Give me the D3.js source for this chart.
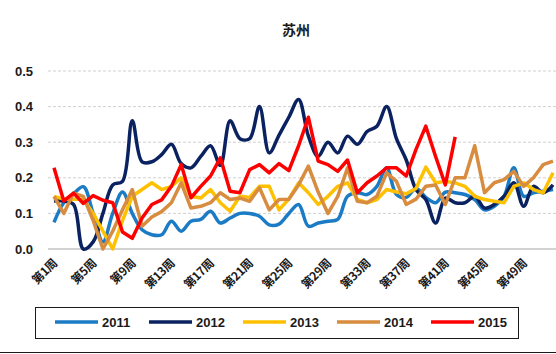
<!DOCTYPE html>
<html>
<head>
<meta charset="utf-8">
<script src="https://cdn.jsdelivr.net/npm/d3@7"></script>
<style>
    body { margin: 0; background: #fff; }
    svg { display: block; font-family: "Liberation Sans", Arial, "Noto Sans CJK SC", sans-serif; }
    .grid line { stroke: #d0d0d0; stroke-dasharray: 3,2; }
    .tick-label { font-size: 13px; font-weight: bold; fill: #1a1a1a; }
    .week-label { font-size: 12px; font-weight: bold; fill: #1a1a1a; font-family: "Noto Sans CJK SC", "Liberation Sans", sans-serif; letter-spacing: -0.5px; }
    .legend-text { font-size: 13px; font-weight: bold; fill: #1a1a1a; }
</style>
</head>
<body>
<svg id="chart" width="556" height="354"></svg>
<script>
// weeks 1..52
const weeks = d3.range(1, 53);
const yTicks = [0, 0.1, 0.2, 0.3, 0.4, 0.5];
const seriesNames = ["2011", "2012", "2013", "2014", "2015"];
const seriesColors = ["#1b7bc4", "#0b2261", "#ffc000", "#d88c3f", "#ff0000"];

const v2011 = [0.075, 0.13, 0.155, 0.175, 0.1, 0.02, 0.1, 0.16, 0.1, 0.054,
    0.04, 0.04, 0.078, 0.05, 0.078, 0.083, 0.106, 0.073, 0.087, 0.1,
    0.1, 0.092, 0.068, 0.07, 0.1, 0.125, 0.064, 0.073, 0.078, 0.083,
    0.148, 0.158, 0.153, 0.176, 0.228, 0.153, 0.145, 0.17, 0.145, 0.13,
    0.16, 0.158, 0.153, 0.139, 0.11, 0.12, 0.148, 0.228, 0.148, 0.158,
    0.162, 0.167];
const v2012 = [0.135, 0.135, 0.125, 0.0, 0.02, 0.1, 0.18, 0.19, 0.36, 0.245,
    0.245, 0.265, 0.294, 0.24, 0.228, 0.26, 0.29, 0.235, 0.36, 0.31,
    0.31, 0.40, 0.27, 0.32, 0.37, 0.42, 0.317, 0.26, 0.30, 0.27,
    0.317, 0.294, 0.33, 0.345, 0.40, 0.31, 0.25, 0.167, 0.139, 0.073,
    0.143, 0.13, 0.13, 0.148, 0.115, 0.125, 0.148, 0.186, 0.12, 0.176,
    0.158, 0.18];
const v2013 = [0.148, 0.14, 0.14, 0.14, 0.1, 0.05, 0.0, 0.08, 0.148, 0.167,
    0.186, 0.167, 0.176, 0.2, 0.148, 0.143, 0.167, 0.13, 0.106, 0.148,
    0.145, 0.176, 0.176, 0.11, 0.14, 0.186, 0.158, 0.125, 0.148, 0.176,
    0.186, 0.139, 0.13, 0.139, 0.167, 0.16, 0.155, 0.17, 0.23, 0.186,
    0.19, 0.186, 0.176, 0.148, 0.139, 0.134, 0.13, 0.176, 0.186, 0.167,
    0.158, 0.214];
const v2014 = [0.148, 0.1, 0.157, 0.148, 0.08, 0.0, 0.05, 0.11, 0.167, 0.064,
    0.09, 0.105, 0.13, 0.186, 0.115, 0.12, 0.13, 0.158, 0.139, 0.143,
    0.134, 0.172, 0.11, 0.139, 0.14, 0.18, 0.233, 0.16, 0.1, 0.148,
    0.228, 0.134, 0.13, 0.148, 0.214, 0.19, 0.125, 0.14, 0.176, 0.18,
    0.125, 0.2, 0.2, 0.29, 0.158, 0.186, 0.195, 0.218, 0.176, 0.2,
    0.237, 0.247];
const v2015 = [0.228, 0.135, 0.157, 0.128, 0.15, 0.137, 0.13, 0.048, 0.03, 0.087,
    0.125, 0.138, 0.176, 0.237, 0.144, 0.176, 0.205, 0.256, 0.162, 0.158,
    0.223, 0.237, 0.214, 0.24, 0.22, 0.29, 0.37, 0.247, 0.237, 0.218,
    0.25, 0.158, 0.186, 0.205, 0.228, 0.228, 0.205, 0.28, 0.345, 0.26,
    0.18, 0.315];

class WeeklyChart {
    constructor() {
        this.svg = d3.select("#chart");
        this.series = [v2011, v2012, v2013, v2014, v2015].map((vals, i) => ({
            name: seriesNames[i],
            color: seriesColors[i],
            smooth: i < 2,
            values: vals.map((v, j) => ({ week: weeks[j], value: v }))
        }));

        //scales:
        this.scaleX = d3.scalePoint()
            .domain(weeks)
            .range([54, 553]);
        this.scaleY = d3.scaleLinear()
            .domain([0, 0.5])
            .range([249, 71]);

        this.drawTitle();
        this.drawAxis();
        this.drawPlot();
        this.drawLegend();
    }

    drawTitle() {
        this.svg.append("text")
            .attr("x", 296)
            .attr("y", 35)
            .attr("text-anchor", "middle")
            .style("font-family", "'Noto Sans CJK SC', sans-serif")
            .style("font-size", "14px")
            .style("font-weight", "bold")
            .style("fill", "#1a1a1a")
            .text("苏州");
    }

    drawAxis() {
        let grid = this.svg.append("g").attr("class", "grid");
        grid.selectAll("line").data(yTicks.filter(d => d > 0))
            .join("line")
            .attr("x1", 48)
            .attr("x2", 556)
            .attr("y1", d => this.scaleY(d))
            .attr("y2", d => this.scaleY(d));

        // baseline
        this.svg.append("line")
            .attr("x1", 48).attr("x2", 556)
            .attr("y1", this.scaleY(0)).attr("y2", this.scaleY(0))
            .style("stroke", "#a6a6a6")
            .style("stroke-width", 1);

        this.svg.append("g").selectAll("text").data(yTicks)
            .join("text")
            .attr("class", "tick-label")
            .attr("x", 33)
            .attr("y", d => this.scaleY(d) + 4.5)
            .attr("text-anchor", "end")
            .text(d => d3.format(".1f")(d));

        let labelWeeks = weeks.filter(w => (w - 1) % 4 === 0);
        this.svg.append("g").selectAll("text").data(labelWeeks)
            .join("text")
            .attr("class", "week-label")
            .attr("text-anchor", "end")
            .attr("transform", d => `translate(${this.scaleX(d) + 4},${264}) rotate(-45)`)
            .text(d => `第${d}周`);
    }

    drawPlot() {
        let parent = this;
        let plot = this.svg.append("g").attr("class", "plot");
        plot.selectAll("path").data(this.series)
            .join("path")
            .attr("fill", "none")
            .attr("stroke", d => d.color)
            .attr("stroke-width", 3.5)
            .attr("stroke-linejoin", "round")
            .attr("d", d => d3.line()
                .x(p => parent.scaleX(p.week))
                .y(p => parent.scaleY(p.value))
                .curve(d.smooth ? d3.curveCatmullRom.alpha(0.5) : d3.curveLinear)(d.values));
    }

    drawLegend() {
        this.svg.append("rect")
            .attr("x", 35.5)
            .attr("y", 307.5)
            .attr("width", 483)
            .attr("height", 31)
            .attr("fill", "none")
            .attr("stroke", "#1a1a1a")
            .attr("stroke-width", 1);

        let item = this.svg.append("g").selectAll("g").data(this.series)
            .join("g")
            .attr("transform", (d, i) => `translate(${55 + i * 94},322)`);
        item.append("line")
            .attr("x1", 0).attr("x2", 43)
            .attr("stroke", d => d.color)
            .attr("stroke-width", 3.5);
        item.append("text")
            .attr("class", "legend-text")
            .attr("x", 47)
            .attr("y", 5)
            .text(d => d.name);

        // bottom rule
        this.svg.append("line")
            .attr("x1", 0).attr("x2", 556)
            .attr("y1", 352.5).attr("y2", 352.5)
            .style("stroke", "#1a1a1a")
            .style("stroke-width", 1);
    }
}

new WeeklyChart();
</script>
</body>
</html>
